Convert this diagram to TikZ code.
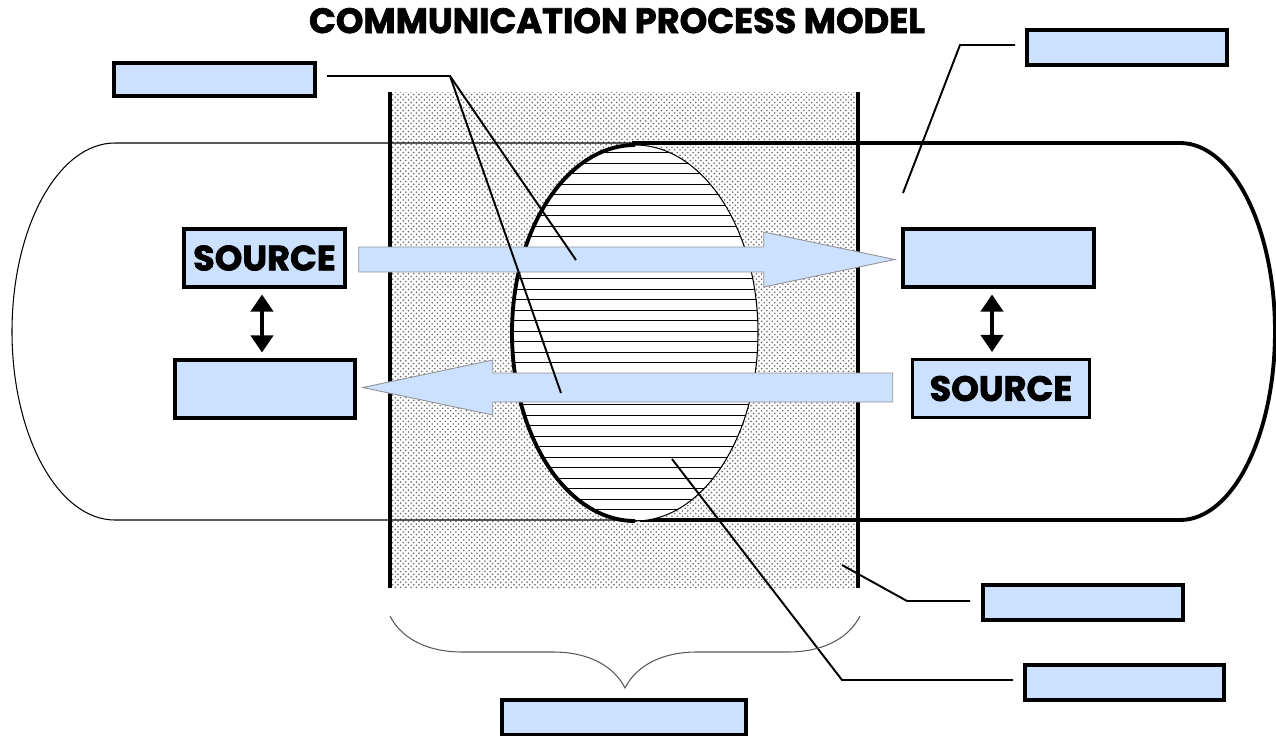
\documentclass[tikz,border=0pt]{standalone}
\usepackage{fontspec}
\setmainfont{Poppins}
\newfontfamily\heavyfont{Poppins}[BoldFeatures={FakeBold=2}]
\usepackage{tikz}
\usetikzlibrary{positioning, arrows.meta, calc, patterns, decorations.pathreplacing}
\definecolor{boxblue}{HTML}{CCE0FF}

\begin{document}
\begin{tikzpicture}[
  x=0.02cm, y=-0.02cm,
  >={Triangle[width=0.44cm, length=0.34cm]},
  every node/.style={font=\bfseries, inner sep=0pt},
  bluebox/.style 2 args={draw, line width=2pt, fill=boxblue, minimum width=#1*0.02cm, minimum height=#2*0.02cm},
  srclabel/.style={font=\heavyfont\bfseries\fontsize{20}{22}\selectfont},
  fatarrow/.style={fill=boxblue, draw=gray!85, line width=0.5pt},
  thinline/.style={line width=0.6pt},
  thickline/.style={line width=2.2pt},
  leader/.style={line width=1.1pt},
  dbl/.style={<->, line width=2.2pt, shorten >=1pt, shorten <=1pt},
]
\useasboundingbox (0,0) rectangle (1276,735);

% Title
\node[font=\heavyfont\bfseries\fontsize{20}{22}\selectfont, anchor=base] (title) at (617,33) {COMMUNICATION PROCESS MODEL};

% Channel band
\fill[pattern=crosshatch dots, pattern color=black!60] (392,92) rectangle (856,588);

% Outer context (thin left half, thick right half)
\draw[thinline] (632,143) -- (115,143) arc[start angle=270, end angle=90, x radius=103, y radius=188.5] -- (640,520);
\draw[thickline] (632,143) -- (1180,143) arc[start angle=-90, end angle=90, x radius=95, y radius=188.5] -- (640,520);

% Message ellipse
\begin{scope}
  \clip (635,333) ellipse [x radius=123, y radius=188];
  \fill[white] (500,140) rectangle (770,525);
  \foreach \yy in {152.8,163.3,...,522} \draw[line width=0.7pt] (500,\yy) -- (770,\yy);
\end{scope}
\draw[line width=0.6pt] (635,145) arc[start angle=-90, end angle=90, x radius=123, y radius=188];
\draw[thickline] (635,145) arc[start angle=270, end angle=90, x radius=123, y radius=188];

% Band edges
\draw[line width=2.4pt] (390,92) -- (390,588);
\draw[line width=2.4pt] (858,92) -- (858,588);

% Boxes
\node[bluebox={161}{58}, srclabel] (srcL) at (264.5,258) {SOURCE};
\node[bluebox={180}{58}] (recL) at (265,389) {};
\node[bluebox={191}{58}] (recR) at (998.5,258) {};
\node[bluebox={177}{58}, srclabel] (srcR) at (1001,388.5) {SOURCE};

% Fat arrows
\draw[fatarrow, shift={($(srcL.east)+(12,1.5)$)}] (0,-12.5) -- (405,-12.5) -- (405,-27.5) -- (536,0) -- (405,27.5) -- (405,12.5) -- (0,12.5) -- cycle;
\draw[fatarrow, shift={($(srcR.west)+(-18,-1)$)}] (0,-14.5) -- (-400,-14.5) -- (-400,-27.5) -- (-530,0) -- (-400,27.5) -- (-400,14.5) -- (0,14.5) -- cycle;

% Two-way arrows
\draw[dbl] ([xshift=-0.05cm, yshift=-0.08cm]srcL.south) -- ([xshift=-0.06cm, yshift=0.08cm]recL.north);
\draw[dbl] ([xshift=-0.13cm, yshift=-0.08cm]recR.south) -- ([xshift=-0.18cm, yshift=0.08cm]srcR.north);

% Label boxes
\node[bluebox={201}{33}] (lblA) at (214.5,79.5) {};
\node[bluebox={200}{35}] (lblB) at (1127,47.5) {};
\node[bluebox={200}{35}] (lblC) at (1083,602.5) {};
\node[bluebox={199}{35}] (lblD) at (1124.5,682.5) {};
\node[bluebox={244}{35}] (lblE) at (624,717.5) {};

% Leader lines
\coordinate (aStart) at (327,76);
\coordinate (aBend) at (450,76);
\coordinate (aTop) at (576,260);
\coordinate (aBot) at (561,393);
\draw[leader] (aStart) -- (aBend) -- (aTop);
\draw[leader] (aBend) -- (aBot);

\coordinate (bStart) at (1015,45);
\coordinate (bBend) at (960,45);
\coordinate (bEnd) at (903,193);
\draw[leader] (bStart) -- (bBend) -- (bEnd);

\coordinate (cEnd) at (842,565);
\coordinate (cBend) at (907,601);
\coordinate (cStart) at (970,601);
\draw[leader] (cStart) -- (cBend) -- (cEnd);

\coordinate (dEnd) at (672,459);
\coordinate (dBend) at (842,680);
\coordinate (dStart) at (1013,680);
\draw[leader] (dStart) -- (dBend) -- (dEnd);

% Brace under the channel
\draw[gray!70!black, line width=0.6pt, decorate, decoration={brace, mirror, amplitude=1.44cm}] (390,616) -- (860,616);
\end{tikzpicture}
\end{document}
